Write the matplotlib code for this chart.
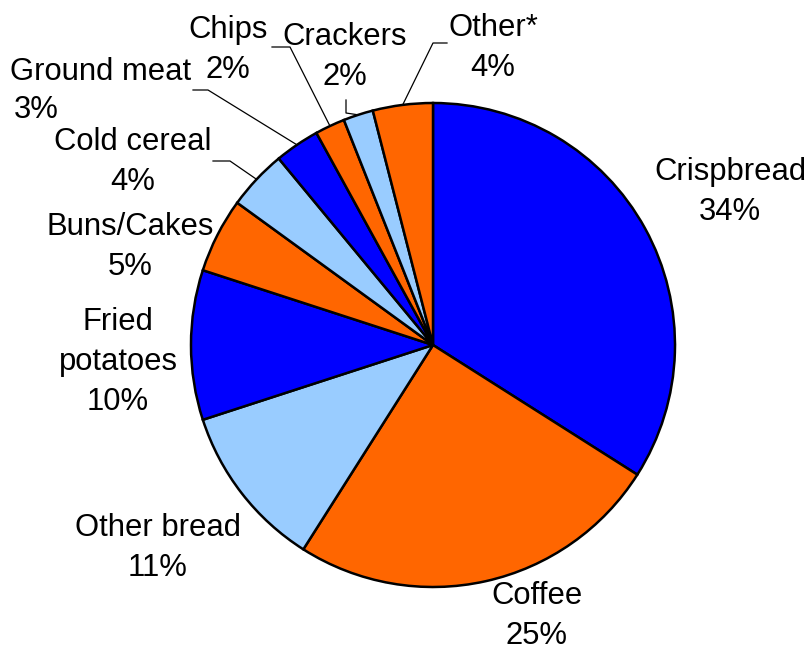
import numpy as np
import matplotlib.pyplot as plt

plt.rcParams['font.family'] = ['Liberation Sans', 'DejaVu Sans']

labels = ['Crispbread', 'Coffee', 'Other bread', 'Fried\npotatoes', 'Buns/Cakes',
          'Cold cereal', 'Ground meat', 'Chips', 'Crackers', 'Other*']
shares = [34, 25, 11, 10, 5, 4, 3, 2, 2, 4]
pct_text = ['34%', '25%', '11%', '10%', '5%', '4%', '3%', '2%', '2%', '4%']

blue = '#0000FF'
orange = '#FF6600'
light = '#99CCFF'
colors = [blue, orange, light, blue, orange, light, blue, orange, light, orange]

W, H = 812, 651
fig = plt.figure(figsize=(W / 100, H / 100), dpi=100)
ax = fig.add_axes([0, 0, 1, 1])

cx, cy, r = 433, H - 345, 242
ax.pie(shares, colors=colors, startangle=90, counterclock=False,
       center=(cx, cy), radius=r, frame=True,
       wedgeprops=dict(edgecolor='black', linewidth=1.8))
ax.set_xlim(0, W)
ax.set_ylim(0, H)
ax.set_aspect('equal')
ax.axis('off')

fs = 22.3
# label centres (pixels from top-left)
pos = {
    'Crispbread': (730, 192),
    'Coffee': (537, 616),
    'Other bread': (158, 548),
    'Fried\npotatoes': (118, 362),
    'Buns/Cakes': (130, 247),
    'Cold cereal': (133, 162),
    'Chips': (228, 50),
    'Crackers': (345, 57),
    'Other*': (493, 48),
}
for lab, pct in zip(labels, pct_text):
    if lab == 'Ground meat':
        ax.text(10, H - 72, lab, ha='left', va='center', fontsize=fs)
        ax.text(14, H - 110, pct, ha='left', va='center', fontsize=fs)
        continue
    x, y = pos[lab]
    ax.text(x, H - y, lab + '\n' + pct, ha='center', va='center',
            fontsize=fs, linespacing=1.43)

# leader lines for small slices
cum = np.cumsum([0] + shares)
total = sum(shares)
elbows = {
    'Cold cereal': [(230, 161), (213, 161)],
    'Ground meat': [(208, 90), (193, 90)],
    'Chips': [(290, 47), (272, 47)],
    'Crackers': [(346, 113), (346, 100)],
    'Other*': [(433, 43), (447, 43)],
}
for i, lab in enumerate(labels):
    if lab not in elbows:
        continue
    mid = (cum[i] + cum[i + 1]) / 2 / total
    ang = np.deg2rad(90 - mid * 360)
    ex, ey = cx + r * np.cos(ang), cy + r * np.sin(ang)
    xs = [ex] + [p[0] for p in elbows[lab]]
    ys = [ey] + [H - p[1] for p in elbows[lab]]
    ax.plot(xs, ys, color='black', linewidth=0.9)

fig.savefig('out.png', dpi=100, facecolor='white')
